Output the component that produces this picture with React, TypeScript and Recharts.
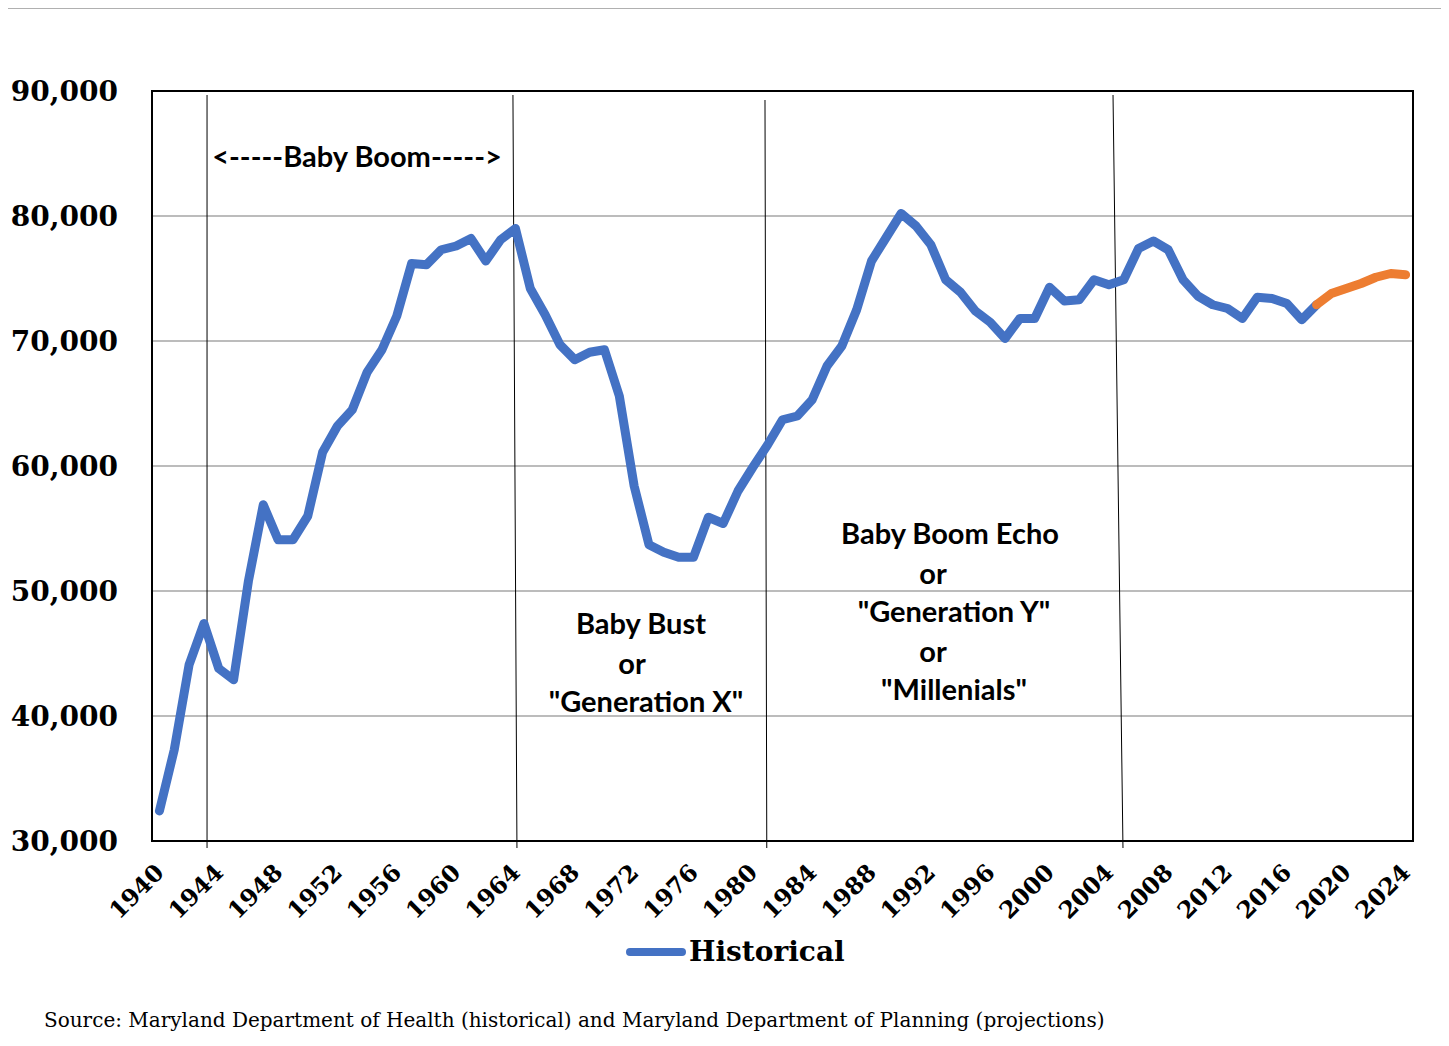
import React from 'react';
import {
  ComposedChart,
  Line,
  XAxis,
  YAxis,
  CartesianGrid,
  Legend,
  ReferenceLine,
  ReferenceArea,
  ReferenceDot,
} from 'recharts';

const historicalYears = [
  1940, 1941, 1942, 1943, 1944, 1945, 1946, 1947, 1948, 1949,
  1950, 1951, 1952, 1953, 1954, 1955, 1956, 1957, 1958, 1959,
  1960, 1961, 1962, 1963, 1964, 1965, 1966, 1967, 1968, 1969,
  1970, 1971, 1972, 1973, 1974, 1975, 1976, 1977, 1978, 1979,
  1980, 1981, 1982, 1983, 1984, 1985, 1986, 1987, 1988, 1989,
  1990, 1991, 1992, 1993, 1994, 1995, 1996, 1997, 1998, 1999,
  2000, 2001, 2002, 2003, 2004, 2005, 2006, 2007, 2008, 2009,
  2010, 2011, 2012, 2013, 2014, 2015, 2016, 2017, 2018,
];

const historicalBirths = [
  32400, 37300, 44100, 47400, 43800, 42900, 50800, 56900, 54100, 54100,
  56000, 61100, 63200, 64500, 67500, 69300, 72000, 76200, 76100, 77300,
  77600, 78200, 76400, 78100, 79000, 74200, 72100, 69700, 68500, 69100,
  69300, 65600, 58400, 53700, 53100, 52700, 52700, 55900, 55400, 58000,
  59900, 61700, 63700, 64000, 65300, 68000, 69600, 72500, 76400, 78300,
  80200, 79200, 77700, 74900, 73900, 72400, 71500, 70200, 71800, 71800,
  74300, 73200, 73300, 74900, 74500, 74900, 77400, 78000, 77300, 74900,
  73600, 72900, 72600, 71800, 73500, 73400, 73000, 71700, 72900,
];

const projectionYears = [2018, 2019, 2020, 2021, 2022, 2023, 2024];
const projectedBirths = [72900, 73800, 74200, 74600, 75100, 75400, 75300];

const xTicks = [
  1940, 1944, 1948, 1952, 1956, 1960, 1964, 1968, 1972, 1976, 1980,
  1984, 1988, 1992, 1996, 2000, 2004, 2008, 2012, 2016, 2020, 2024,
];
const yTicks = [30000, 40000, 50000, 60000, 70000, 80000, 90000];

// generation dividers (drawn by hand in the original, slightly slanted)
const dividers = [
  { x1: 1943.21, y1: 89680, x2: 1943.21, y2: 29440 },
  { x1: 1963.83, y1: 89680, x2: 1964.1, y2: 29440 },
  { x1: 1980.82, y1: 89280, x2: 1980.94, y2: 29440 },
  { x1: 2004.28, y1: 89680, x2: 2004.95, y2: 29440 },
];

const annotations = [
  { text: '<-----Baby Boom----->', x: 1953.32, y: 84880 },
  { text: 'Baby Bust', x: 1972.46, y: 47520 },
  { text: 'or', x: 1971.86, y: 44320 },
  { text: '"Generation X"', x: 1972.8, y: 41280 },
  { text: 'Baby Boom Echo', x: 1993.29, y: 54720 },
  { text: 'or', x: 1992.15, y: 51520 },
  { text: '"Generation Y"', x: 1993.56, y: 48480 },
  { text: 'or', x: 1992.15, y: 45280 },
  { text: '"Millenials"', x: 1993.56, y: 42240 },
];

const BLUE = '#4472C4';
const ORANGE = '#ED7D31';
const SERIF = '"DejaVu Serif", serif';
const SANS = 'Lato, "Open Sans", sans-serif';

const data = historicalYears.map((year, i) => ({
  year,
  historical: historicalBirths[i],
  projected: null as number | null,
}));
projectionYears.forEach((year, i) => {
  const row = data.find((d) => d.year === year);
  if (row) row.projected = projectedBirths[i];
  else data.push({ year, historical: null as any, projected: projectedBirths[i] });
});

const fmt = (v: number) => v.toLocaleString('en-US');

const YTick = (props: any) => {
  const { x, y, payload } = props;
  return (
    <text
      x={x}
      y={y}
      dy="0.36em"
      textAnchor="end"
      fontFamily={SERIF}
      fontWeight="bold"
      fontSize={28}
      fill="#000"
    >
      {fmt(payload.value)}
    </text>
  );
};

const XTick = (props: any) => {
  const { x, y, payload } = props;
  const ax = x + 6;
  const ay = y + 33;
  return (
    <text
      x={ax}
      y={ay}
      textAnchor="end"
      transform={`rotate(-45, ${ax}, ${ay})`}
      fontFamily={SERIF}
      fontWeight="bold"
      fontSize={23.5}
      fill="#000"
    >
      {payload.value}
    </text>
  );
};

const LegendContent = (props: any) => {
  const items = (props.payload || []).filter((p: any) => p.dataKey === 'historical');
  return (
    <div style={{ display: 'flex', alignItems: 'center', height: 36 }}>
      {items.map((p: any) => (
        <div key={p.dataKey} style={{ display: 'flex', alignItems: 'center' }}>
          <svg width={62} height={12} style={{ display: 'block' }}>
            <line x1={5} y1={6} x2={57} y2={6} stroke={BLUE} strokeWidth={8} strokeLinecap="round" />
          </svg>
          <span
            style={{
              fontFamily: SERIF,
              fontWeight: 'bold',
              fontSize: 28,
              color: '#000',
              marginLeft: 2,
              lineHeight: '36px',
            }}
          >
            Historical
          </span>
        </div>
      ))}
    </div>
  );
};

const makeLabel = (text: string) => (props: any) => (
  <text
    x={props.cx}
    y={props.cy}
    textAnchor="middle"
    dominantBaseline="central"
    fontFamily={SANS}
    fontWeight="bold"
    fontSize={29}
    fill="#000"
  >
    {text}
  </text>
);

export default function App() {
  return (
    <div style={{ position: 'relative', width: 1449, height: 1046, margin: -8, overflow: 'hidden', background: '#fff' }}>
      <div style={{ position: 'absolute', left: 0, top: 0 }}>
        <ComposedChart
          width={1449}
          height={1046}
          data={data}
          margin={{ top: 91, right: 36, bottom: 125, left: 0 }}
        >
          <CartesianGrid vertical={false} stroke="#a6a6a6" strokeWidth={1.5} />
          <XAxis
            dataKey="year"
            type="number"
            domain={[1939.5, 2024.5]}
            ticks={xTicks}
            interval={0}
            tick={<XTick />}
            tickLine={false}
            tickSize={0}
            tickMargin={0}
            height={80}
            axisLine={{ stroke: '#000', strokeWidth: 2 }}
            allowDataOverflow
          />
          <YAxis
            type="number"
            domain={[30000, 90000]}
            ticks={yTicks}
            interval={0}
            tick={<YTick />}
            tickLine={false}
            tickSize={0}
            tickMargin={34}
            width={152}
            axisLine={{ stroke: '#000', strokeWidth: 2 }}
          />
          <ReferenceArea
            x1={1939.5}
            x2={2024.5}
            y1={30000}
            y2={90000}
            fill="none"
            fillOpacity={0}
            stroke="#000"
            strokeWidth={2}
            ifOverflow="visible"
          />
          {dividers.map((d, i) => (
            <ReferenceLine
              key={'div' + i}
              segment={[
                { x: d.x1, y: d.y1 },
                { x: d.x2, y: d.y2 },
              ]}
              stroke="#000"
              strokeWidth={1}
              ifOverflow="visible"
            />
          ))}
          <Line
            type="linear"
            dataKey="historical"
            name="Historical"
            stroke={BLUE}
            strokeWidth={9}
            strokeLinecap="round"
            strokeLinejoin="round"
            dot={false}
            activeDot={false}
            connectNulls={false}
            isAnimationActive={false}
          />
          <Line
            type="linear"
            dataKey="projected"
            name="Projected"
            stroke={ORANGE}
            strokeWidth={9}
            strokeLinecap="round"
            strokeLinejoin="round"
            dot={false}
            activeDot={false}
            legendType="none"
            isAnimationActive={false}
          />
          {annotations.map((a, i) => (
            <ReferenceDot
              key={'ann' + i}
              x={a.x}
              y={a.y}
              r={0}
              ifOverflow="visible"
              shape={makeLabel(a.text)}
            />
          ))}
          <Legend
            layout="horizontal"
            verticalAlign="middle"
            align="center"
            content={<LegendContent />}
            wrapperStyle={{ top: 934, left: 625, width: 260, height: 36 }}
          />
        </ComposedChart>
      </div>
      <div
        style={{
          position: 'absolute',
          left: 44,
          top: 1008,
          fontFamily: SERIF,
          fontSize: 20,
          color: '#000',
          whiteSpace: 'nowrap',
        }}
      >
        Source: Maryland Department of Health (historical) and Maryland Department of Planning (projections)
      </div>
      <div
        style={{
          position: 'absolute',
          left: 6,
          top: 8,
          width: 1438,
          height: 1060,
          borderLeft: '2px solid #b0b0b0',
          borderTop: '1px solid #b0b0b0',
          borderRight: '1px solid #b0b0b0',
          boxSizing: 'border-box',
          pointerEvents: 'none',
        }}
      />
    </div>
  );
}
